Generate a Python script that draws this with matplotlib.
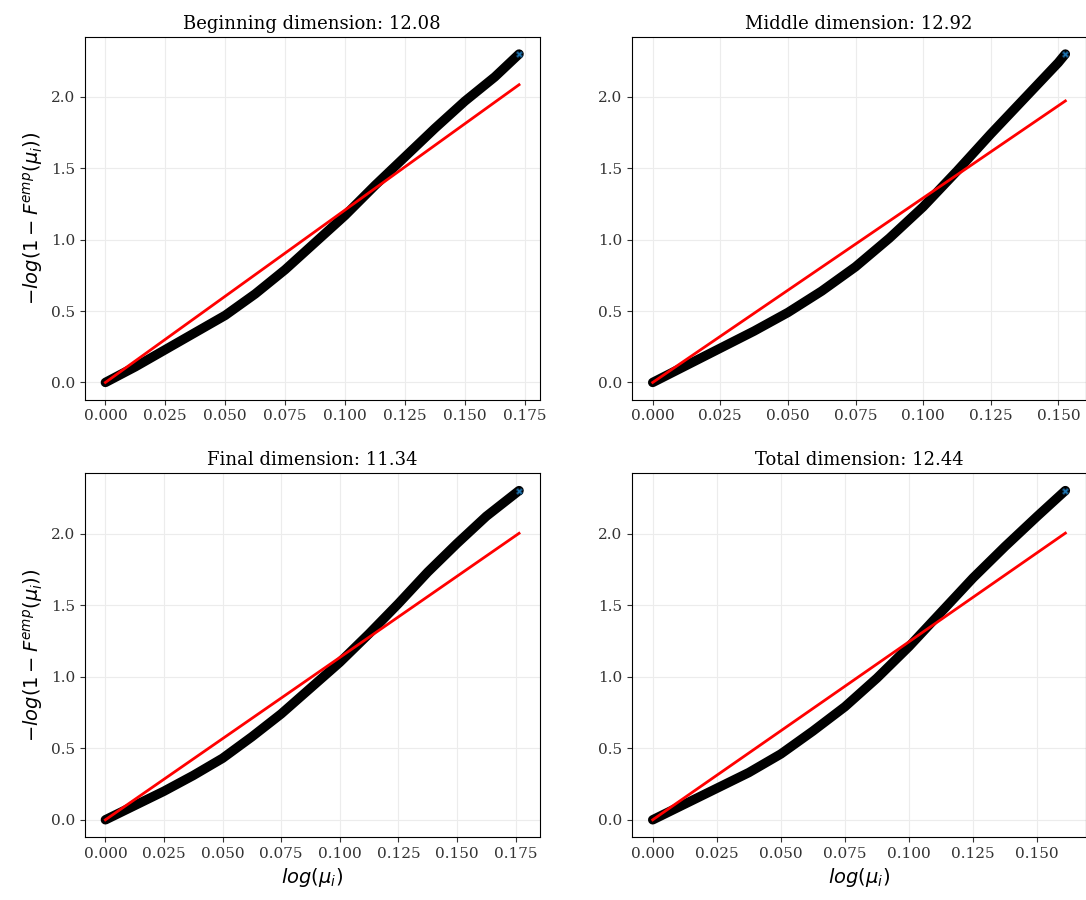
import matplotlib
matplotlib.use("Agg")
import matplotlib.pyplot as plt

titles = ["Beginning dimension: 12.08", "Middle dimension: 12.92",
          "Final dimension: 11.34", "Total dimension: 12.44"]
dims = [12.08, 12.92, 11.34, 12.44]

x1 = [0.0, 0.0125, 0.025, 0.0375, 0.05, 0.0625, 0.075, 0.0875, 0.1, 0.1125,
      0.125, 0.1375, 0.15, 0.1625, 0.1726]
y1 = [0.0, 0.11, 0.23, 0.35, 0.47, 0.62, 0.79, 0.98, 1.17, 1.38,
      1.58, 1.78, 1.97, 2.14, 2.30]
x2 = [0.0, 0.0125, 0.025, 0.0375, 0.05, 0.0625, 0.075, 0.0875, 0.1, 0.1125,
      0.125, 0.1375, 0.15, 0.1526]
y2 = [0.0, 0.12, 0.24, 0.36, 0.49, 0.64, 0.81, 1.01, 1.23, 1.48,
      1.74, 1.99, 2.24, 2.30]
x3 = [0.0, 0.0125, 0.025, 0.0375, 0.05, 0.0625, 0.075, 0.0875, 0.1, 0.1125,
      0.125, 0.1375, 0.15, 0.1625, 0.1765]
y3 = [0.0, 0.10, 0.20, 0.31, 0.43, 0.58, 0.74, 0.92, 1.10, 1.30,
      1.51, 1.73, 1.93, 2.12, 2.30]
x4 = [0.0, 0.0125, 0.025, 0.0375, 0.05, 0.0625, 0.075, 0.0875, 0.1, 0.1125,
      0.125, 0.1375, 0.15, 0.161]
y4 = [0.0, 0.11, 0.22, 0.33, 0.46, 0.62, 0.79, 0.99, 1.21, 1.45,
      1.69, 1.91, 2.12, 2.30]
xs = [x1, x2, x3, x4]
ys = [y1, y2, y3, y4]
xticks_sets = [[0, 0.025, 0.05, 0.075, 0.1, 0.125, 0.15, 0.175],
               [0, 0.025, 0.05, 0.075, 0.1, 0.125, 0.15],
               [0, 0.025, 0.05, 0.075, 0.1, 0.125, 0.15, 0.175],
               [0, 0.025, 0.05, 0.075, 0.1, 0.125, 0.15]]
yticks = [0.0, 0.5, 1.0, 1.5, 2.0]

plt.rcParams['font.family'] = ['DejaVu Serif']
plt.rcParams['mathtext.fontset'] = 'dejavusans'

fig = plt.figure(figsize=(10.86, 9), dpi=100)
rects = [[0.078, 0.556, 0.419, 0.403], [0.582, 0.556, 0.418, 0.403],
         [0.078, 0.070, 0.419, 0.404], [0.582, 0.070, 0.418, 0.404]]
for i in range(4):
    ax = fig.add_axes(rects[i])
    x, y = xs[i], ys[i]
    ax.grid(True, color='#ececec', linewidth=0.8)
    ax.set_axisbelow(True)
    ax.plot(x, y, color='black', lw=6.8, solid_capstyle='round',
            solid_joinstyle='round', zorder=2)
    ax.scatter([x[-1]], [y[-1]], s=22, color='#1f77b4', edgecolor='#0a2a44',
               linewidth=0.6, marker='X', zorder=3)
    xm = x[-1]
    ax.plot([0, xm], [0, dims[i] * xm], color='red', lw=2, zorder=4)
    ax.set_xlim(-0.05 * xm, 1.05 * xm)
    ax.set_ylim(-0.12, 2.42)
    ax.set_xticks(xticks_sets[i])
    ax.set_xticklabels([f"{t:.3f}" for t in xticks_sets[i]])
    ax.set_yticks(yticks)
    ax.tick_params(labelsize=11, colors='#333333')
    ax.set_title(titles[i], fontsize=13)
    if i % 2 == 0:
        ax.set_ylabel(r'$-log(1-F^{emp}(\mu_i))$', fontsize=14)
    if i >= 2:
        ax.set_xlabel(r'$log(\mu_i)$', fontsize=14)

fig.savefig("out.png", dpi=100)
